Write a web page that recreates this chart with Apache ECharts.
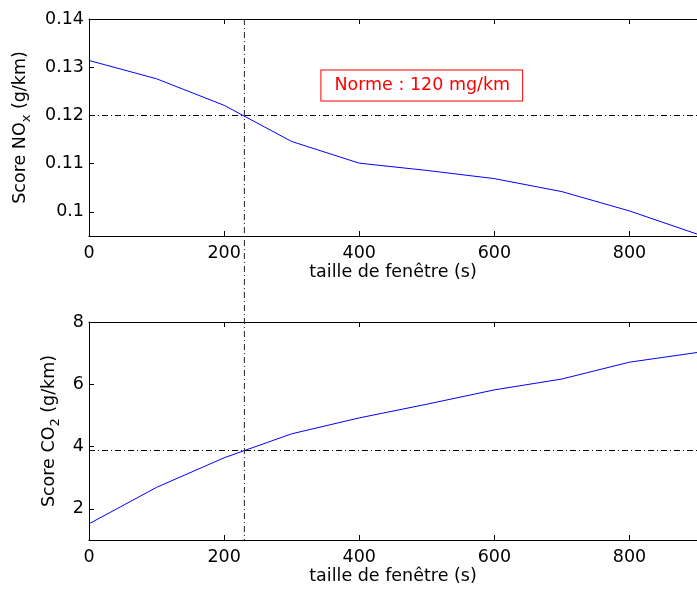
<!DOCTYPE html>
<html>
<head>
<meta charset="utf-8">
<script src="https://cdn.jsdelivr.net/npm/echarts@6/dist/echarts.min.js"></script>
<style>
html,body{margin:0;padding:0;background:#fff;}
#c{width:697px;height:589px;}
</style>
</head>
<body>
<div id="c"></div>
<script>
// ---- data ----
const windowSizes = [0, 100, 200, 300, 400, 500, 600, 700, 800, 900];
const noxScores   = [0.1314, 0.1276, 0.1221, 0.1146, 0.1101, 0.1086, 0.1069, 0.1042, 0.1002, 0.0954];
const co2Scores   = [1.52, 2.69, 3.64, 4.41, 4.92, 5.36, 5.82, 6.17, 6.71, 7.02];
const xTicks      = [0, 200, 400, 600, 800];
const noxTicks    = [0.1, 0.11, 0.12, 0.13, 0.14];
const co2Ticks    = [2, 4, 6, 8];
const noxNorm     = 0.12;
const crossWindow = 230;
const co2AtCross  = 3.87;
const noteText    = 'Norme : 120 mg/km';
const xName       = 'taille de fenêtre (s)';

// ---- chart ----
const FONT = '"DejaVu Sans", sans-serif';
const FS = 17.5;
const chart = echarts.init(document.getElementById('c'), null, {renderer: 'canvas'});

function xAxes(gridIndex) {
  return [
    {
      gridIndex, type: 'value', min: 0, max: 900, interval: 200, position: 'bottom',
      axisLine: {show: true, onZero: false, lineStyle: {color: '#000', width: 1}},
      axisTick: {show: true, inside: true, length: 5, customValues: xTicks, lineStyle: {color: '#000'}},
      axisLabel: {show: true, margin: 8, color: '#000', fontSize: FS, fontFamily: FONT, customValues: xTicks},
      splitLine: {show: false},
      name: xName, nameLocation: 'middle', nameGap: 27,
      nameTextStyle: {color: '#000', fontSize: FS, fontFamily: FONT}
    },
    {
      gridIndex, type: 'value', min: 0, max: 900, interval: 200, position: 'top',
      axisLine: {show: true, onZero: false, lineStyle: {color: '#000', width: 1}},
      axisTick: {show: true, inside: true, length: 5, customValues: xTicks, lineStyle: {color: '#000'}},
      axisLabel: {show: false},
      splitLine: {show: false}
    }
  ];
}

function yAxis(gridIndex, min, max, ticks, nameMain, sub, gap) {
  return {
    gridIndex, type: 'value', min, max, position: 'left',
    axisLine: {show: true, onZero: false, lineStyle: {color: '#000', width: 1}},
    axisTick: {show: true, inside: true, length: 5, customValues: ticks, lineStyle: {color: '#000'}},
    axisLabel: {show: true, margin: 5, color: '#000', fontSize: FS, fontFamily: FONT, customValues: ticks},
    splitLine: {show: false},
    name: 'Score ' + nameMain + '{sub|' + sub + '} (g/km)',
    nameLocation: 'middle', nameRotate: 90, nameGap: gap,
    nameTextStyle: {
      color: '#000', fontSize: FS, fontFamily: FONT,
      rich: {
        sub: {fontSize: 13, fontFamily: FONT, color: '#000', padding: [12, 0, 0, 0]}
      }
    }
  };
}

const refLine = {color: '#000', width: 1, type: [6, 3, 1, 3]};

const option = {
  animation: false,
  backgroundColor: '#fff',
  grid: [
    {left: 89, top: 19, width: 614, height: 217},
    {left: 89, top: 322, width: 614, height: 218}
  ],
  xAxis: [].concat(xAxes(0), xAxes(1)),
  yAxis: [
    yAxis(0, 0.095, 0.14, noxTicks, 'NO', 'x', 56),
    yAxis(1, 1, 8, co2Ticks, 'CO', '2', 27)
  ],
  series: [
    {
      type: 'line', xAxisIndex: 0, yAxisIndex: 0,
      data: windowSizes.map((w, i) => [w, noxScores[i]]),
      showSymbol: false, symbol: 'none', clip: true,
      lineStyle: {color: '#0000ff', width: 1}, itemStyle: {color: '#0000ff'},
      markLine: {silent: true, symbol: ['none', 'none'], label: {show: false}, animation: false,
        lineStyle: refLine, data: [{yAxis: noxNorm}]}
    },
    {
      type: 'line', xAxisIndex: 2, yAxisIndex: 1,
      data: windowSizes.map((w, i) => [w, co2Scores[i]]),
      showSymbol: false, symbol: 'none', clip: true,
      lineStyle: {color: '#0000ff', width: 1}, itemStyle: {color: '#0000ff'},
      markLine: {silent: true, symbol: ['none', 'none'], label: {show: false}, animation: false,
        lineStyle: refLine, data: [{yAxis: co2AtCross}]}
    }
  ]
};
chart.setOption(option);

// vertical crossing line spanning both panels and annotation box, placed via the axes' scales
const xPix = chart.convertToPixel({xAxisIndex: 0}, crossWindow);
const yTop = chart.convertToPixel({yAxisIndex: 0}, 0.14);
const yBot = chart.convertToPixel({yAxisIndex: 1}, 1);
const notePos = chart.convertToPixel({gridIndex: 0}, [344, 0.1262]);

chart.setOption({
  graphic: [
    {
      type: 'line', silent: true, z: 10,
      shape: {x1: xPix, y1: yTop, x2: xPix, y2: yBot},
      style: {stroke: '#222', lineWidth: 1, lineDash: [6, 3, 1, 3]}
    },
    {
      type: 'text', silent: true, z: 11,
      x: notePos[0], y: notePos[1],
      style: {
        text: noteText, fill: '#ff0000', font: FS + 'px ' + FONT,
        align: 'left', verticalAlign: 'middle',
        backgroundColor: '#fff', borderColor: '#ff0000', borderWidth: 1,
        padding: [6, 12, 6, 13]
      }
    }
  ]
});
</script>
</body>
</html>
